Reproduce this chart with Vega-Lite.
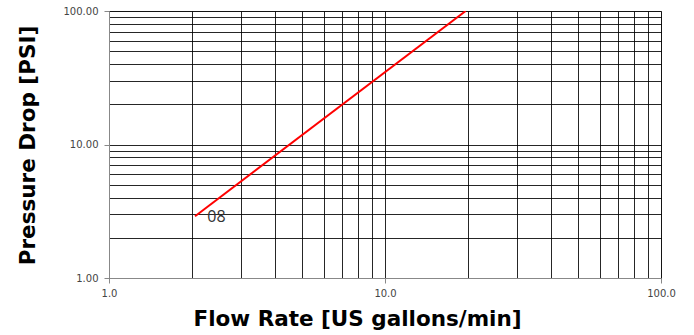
{
  "$schema": "https://vega.github.io/schema/vega-lite/v6.json",
  "autosize": {"type": "none"},
  "padding": {"left": 109, "top": 11, "right": 33, "bottom": 57},
  "width": 552,
  "height": 267,
  "config": {
    "view": {"stroke": "#888", "strokeWidth": 1},
    "axis": {
      "gridColor": "#000",
      "gridOpacity": 0.85,
      "gridWidth": 1,
      "domainColor": "#888",
      "tickColor": "#888",
      "tickSize": 5,
      "labelFont": "DejaVu Sans",
      "labelFontSize": 10,
      "labelColor": "#444",
      "titleFont": "DejaVu Sans",
      "titleFontSize": 21.5,
      "titleFontWeight": "bold",
      "titleColor": "#000"
    }
  },
  "layer": [
    {
      "data": {"values": [
        {"flow": 2.05, "dp": 2.9},
        {"flow": 19.6, "dp": 100}
      ]},
      "mark": {"type": "line", "color": "#ff0000", "strokeWidth": 2, "clip": true},
      "encoding": {
        "x": {
          "field": "flow", "type": "quantitative",
          "scale": {"type": "log", "domain": [1, 100], "nice": false},
          "axis": {
            "title": "Flow Rate [US gallons/min]",
            "values": [1,2,3,4,5,6,7,8,9,10,20,30,40,50,60,70,80,90,100],
            "labelExpr": "datum.value == 1 || datum.value == 10 || datum.value == 100 ? format(datum.value, '.1f') : ''",
            "tickOpacity": {"condition": {"test": "datum.value == 1 || datum.value == 10 || datum.value == 100", "value": 1}, "value": 0},
            "labelPadding": 5,
            "labelFlush": false,
            "titleX": 248,
            "titleY": 41,
            "titleBaseline": "middle"
          }
        },
        "y": {
          "field": "dp", "type": "quantitative",
          "scale": {"type": "log", "domain": [1, 100], "nice": false},
          "axis": {
            "title": "Pressure Drop [PSI]",
            "values": [1,2,3,4,5,6,7,8,9,10,20,30,40,50,60,70,80,90,100],
            "labelExpr": "datum.value == 1 || datum.value == 10 || datum.value == 100 ? format(datum.value, '.2f') : ''",
            "tickOpacity": {"condition": {"test": "datum.value == 1 || datum.value == 10 || datum.value == 100", "value": 1}, "value": 0},
            "labelPadding": 6,
            "labelFlush": false,
            "titleX": -81,
            "titleY": 134,
            "titleBaseline": "middle",
            "titleAngle": -90
          }
        }
      }
    },
    {
      "data": {"values": [{"flow": 2.45, "dp": 2.85, "label": "08"}]},
      "mark": {"type": "text", "font": "Open Sans", "fontSize": 16, "color": "#333", "align": "center", "baseline": "middle"},
      "encoding": {
        "x": {"field": "flow", "type": "quantitative"},
        "y": {"field": "dp", "type": "quantitative"},
        "text": {"field": "label"}
      }
    }
  ]
}
